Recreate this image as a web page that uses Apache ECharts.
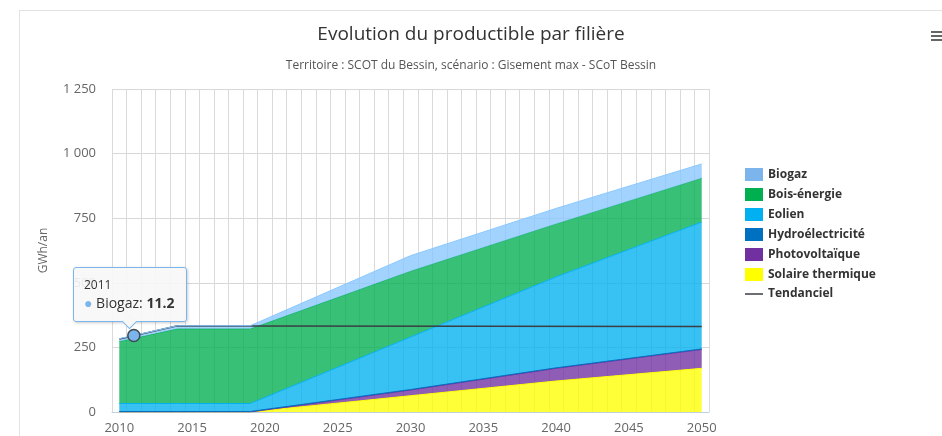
<!DOCTYPE html>
<html>
<head>
<meta charset="utf-8">
<title>Evolution du productible par filière</title>
<script src="https://cdn.jsdelivr.net/npm/echarts@6/dist/echarts.min.js"></script>
<style>
  * { margin: 0; padding: 0; }
  body { background: #fff; }
  #frame {
    position: absolute; left: 19px; top: 10px; width: 923px; height: 426px;
    border-left: 1px solid #e3e3e3; border-top: 1px solid #e3e3e3;
  }
  #chart { position: absolute; left: 0; top: 0; width: 942px; height: 436px; }
</style>
</head>
<body>
<div id="frame"></div>
<div id="chart"></div>
<script>
// années où la courbe change de pente
const years = [2010, 2011, 2014, 2019, 2030, 2040, 2050];
const biogaz = [11, 11.2, 12, 12, 60, 60, 55];
const bois = [240, 252, 289, 289, 255, 205, 170];
const eolien = [31, 31, 31, 31, 203, 352, 491];
const hydro = [2, 2, 2, 2, 2, 2, 2];
const photovoltaique = [0, 0, 0, 0, 22, 49, 73];
const solaire = [0, 0, 0, 0, 63, 120, 169];

const tendYears = [2010, 2014, 2019, 2050];
const tendanciel = [282, 334, 333, 331];

const firstYear = 2010;
const lastYear = 2050;
const yTicks = [0, 250, 500, 750, 1000, 1250];

const axisYears = [];
for (let y = firstYear; y <= lastYear; y++) axisYears.push(String(y));

const colors = {
  "Biogaz": "#7cb5ec",
  "Bois-énergie": "#00b050",
  "Eolien": "#00b0f0",
  "Hydroélectricité": "#0070c0",
  "Photovoltaïque": "#7030a0",
  "Solaire thermique": "#ffff00",
  "Tendanciel": "#3a3f44",
};

const font = "'Open Sans', sans-serif";

function pairs(xs, vs) {
  return xs.map((x, i) => [String(x), vs[i]]);
}

function areaSeries(name, values) {
  return {
    name: name,
    type: "line",
    stack: "total",
    data: pairs(years, values),
    color: colors[name],
    showSymbol: false,
    symbol: "circle",
    symbolSize: 12,
    lineStyle: { width: 1, color: colors[name] },
    areaStyle: { color: colors[name], opacity: 0.78 },
    emphasis: {
      scale: false,
      lineStyle: { width: 1 },
      itemStyle: { color: colors[name], borderColor: "#3d4a52", borderWidth: 1.5 },
    },
  };
}

const dom = document.getElementById("chart");
const myChart = echarts.init(dom, null, { renderer: "canvas" });

const caret =
  '<div style="position:absolute;left:50%;bottom:-6px;margin-left:-6px;width:10px;height:10px;' +
  'background:#f7f7f7;border-right:1px solid #7cb5ec;border-bottom:1px solid #7cb5ec;transform:rotate(45deg);"></div>';

const option = {
  animation: false,
  textStyle: { fontFamily: font },
  title: {
    text: "Evolution du productible par filière",
    subtext: "Territoire : SCOT du Bessin, scénario : Gisement max - SCoT Bessin",
    left: "center",
    top: 20,
    itemGap: 16,
    textStyle: { fontSize: 19, fontWeight: "normal", color: "#333", fontFamily: font },
    subtextStyle: { fontSize: 12, color: "#555", fontFamily: font },
  },
  legend: {
    orient: "vertical",
    left: 740,
    top: 163,
    itemWidth: 18,
    itemHeight: 13,
    itemGap: 7,
    symbolKeepAspect: true,
    textStyle: { fontSize: 12, fontWeight: "bold", color: "#333", fontFamily: font },
    data: [
      { name: "Biogaz", icon: "rect" },
      { name: "Bois-énergie", icon: "rect" },
      { name: "Eolien", icon: "rect" },
      { name: "Hydroélectricité", icon: "rect" },
      { name: "Photovoltaïque", icon: "rect" },
      { name: "Solaire thermique", icon: "rect" },
      { name: "Tendanciel", icon: "path://M0,0 L24,0 L24,2 L0,2 Z" },
    ],
  },
  tooltip: {
    trigger: "item",
    triggerOn: "none",
    alwaysShowContent: true,
    position: [73, 267],
    backgroundColor: "rgba(247,247,247,0.9)",
    borderColor: "#7cb5ec",
    borderWidth: 1,
    padding: [8, 12, 9, 10],
    extraCssText: "border-radius:3px;box-shadow:1px 1px 3px rgba(0,0,0,0.2);overflow:visible;",
    formatter: (p) =>
      '<div style="font-size:12px;line-height:17px;color:#333">' + p.value[0] + "</div>" +
      '<div style="font-size:14px;line-height:19px;color:#333"><span style="color:' + p.color +
      '">\u25CF</span> ' + p.seriesName + ": <b>" + p.value[1] + "</b></div>" + caret,
  },
  grid: { left: 112, right: 233, top: 89, bottom: 24, containLabel: false },
  xAxis: {
    type: "category",
    data: axisYears,
    boundaryGap: true,
    axisLine: { lineStyle: { color: "#c0d0e0" } },
    axisTick: { interval: 0, length: 10, lineStyle: { color: "#c0d0e0" } },
    axisLabel: { interval: 4, color: "#666", fontSize: 13, margin: 10 },
    splitLine: { show: true, interval: 0, lineStyle: { color: "#dadada" } },
  },
  yAxis: {
    type: "value",
    min: yTicks[0],
    max: yTicks[yTicks.length - 1],
    interval: yTicks[1] - yTicks[0],
    name: "GWh/an",
    nameLocation: "middle",
    nameGap: 62,
    nameTextStyle: { color: "#666", fontSize: 12 },
    axisLine: { show: false },
    axisTick: { show: false },
    axisLabel: {
      color: "#666",
      fontSize: 13,
      margin: 16,
      formatter: (v) => String(v).replace(/\B(?=(\d{3})+(?!\d))/g, " "),
    },
    splitLine: { lineStyle: { color: "#d8d8d8" } },
  },
  graphic: [
    { type: "rect", right: 0, top: 31, shape: { width: 11, height: 2 }, style: { fill: "#666" } },
    { type: "rect", right: 0, top: 35, shape: { width: 11, height: 2 }, style: { fill: "#666" } },
    { type: "rect", right: 0, top: 39, shape: { width: 11, height: 2 }, style: { fill: "#666" } },
  ],
  series: [
    areaSeries("Solaire thermique", solaire),
    areaSeries("Photovoltaïque", photovoltaique),
    areaSeries("Hydroélectricité", hydro),
    areaSeries("Eolien", eolien),
    areaSeries("Bois-énergie", bois),
    areaSeries("Biogaz", biogaz),
    {
      name: "Tendanciel",
      type: "line",
      data: pairs(tendYears, tendanciel),
      color: colors["Tendanciel"],
      showSymbol: false,
      symbol: "none",
      lineStyle: { width: 1.5, color: colors["Tendanciel"] },
      z: 3,
    },
  ],
};

myChart.setOption(option);

// survol figé sur Biogaz 2011 comme sur la capture
myChart.dispatchAction({ type: "highlight", seriesIndex: 5, dataIndex: 1 });
myChart.dispatchAction({ type: "showTip", seriesIndex: 5, dataIndex: 1 });

window.addEventListener("resize", myChart.resize);
</script>
</body>
</html>
